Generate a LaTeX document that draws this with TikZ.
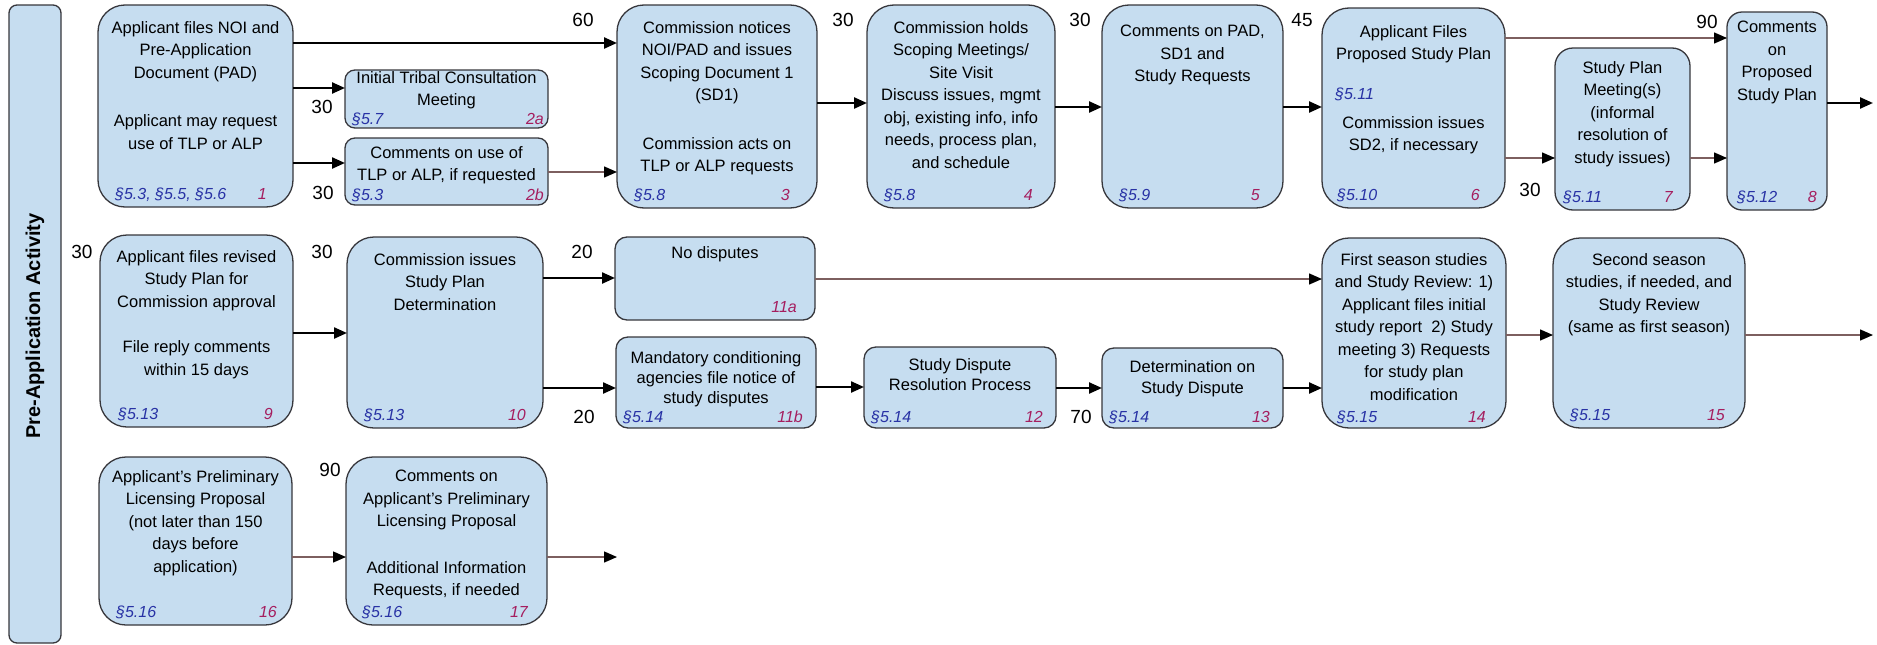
\documentclass[tikz,border=0pt]{standalone}
\usepackage{fontspec}
\setmainfont{Liberation Sans}
\usetikzlibrary{arrows.meta}
\definecolor{boxfill}{RGB}{198,221,240}
\definecolor{boxline}{RGB}{55,55,60}
\definecolor{refblue}{RGB}{40,50,165}
\definecolor{nummag}{RGB}{165,30,95}
\definecolor{thinarr}{RGB}{125,95,95}
\newcommand\pbox[6]{\node[box,rounded corners=#6pt,minimum width={(#4-#2)*1pt},minimum height={(#5-#3)*1pt}] (#1) at ({(#2+#4)/2},{(#3+#5)/2}) {};}
\tikzset{
  box/.style={draw=boxline,fill=boxfill,line width=1.3pt,inner sep=0pt,outer sep=0pt},
  btxt/.style={font=\fontsize{16.5}{22.5}\selectfont,align=center,inner sep=0pt,anchor=north},
  reftxt/.style={font=\fontsize{16}{18}\selectfont\itshape,text=refblue,inner sep=0pt,anchor=base west},
  numtxt/.style={font=\fontsize{16}{18}\selectfont\itshape,text=nummag,inner sep=0pt,anchor=base east},
  lbl/.style={font=\fontsize{19}{22}\selectfont,inner sep=0pt},
  arr/.style={line width=2.3pt,-{Triangle[length=13pt,width=11pt]}},
  tarr/.style={line width=1.4pt,draw=thinarr,-{Triangle[length=13pt,width=11pt,color=black]}}
}
\begin{document}
\begin{tikzpicture}[x=1pt,y=-1pt]
\useasboundingbox (0,0) rectangle (1877,645);
% sidebar
\node[box,rounded corners=8pt,minimum width=52pt,minimum height=638pt] (side) at (35,324) {};
\node[rotate=90,font=\bfseries\fontsize{20}{22}\selectfont,inner sep=0pt] (sidet) at (35,326) {Pre-Application Activity};
% boxes
\pbox{b1}{98}{5}{293}{207}{27}
\pbox{b2a}{345}{70}{548}{128}{10}
\pbox{b2b}{345}{138}{548}{205}{10}
\pbox{b3}{617}{5}{817}{208}{27}
\pbox{b4}{867}{5}{1055}{208}{27}
\pbox{b5}{1102}{5}{1283}{208}{27}
\pbox{b6}{1322}{8}{1505}{208}{27}
\pbox{b7}{1555}{48}{1690}{210}{18}
\pbox{b8}{1727}{12}{1827}{210}{15}
\pbox{b9}{100}{235}{293}{427}{27}
\pbox{b10}{347}{237}{543}{428}{27}
\pbox{b11a}{615}{237}{815}{320}{12}
\pbox{b11b}{616}{337}{816}{428}{12}
\pbox{b12}{864}{347}{1056}{428}{12}
\pbox{b13}{1102}{348}{1283}{428}{12}
\pbox{b14}{1322}{238}{1506}{428}{27}
\pbox{b15}{1553}{238}{1745}{428}{27}
\pbox{b16}{99}{457}{292}{625}{27}
\pbox{b17}{346}{457}{547}{625}{27}
% texts
\node[btxt] (b1t) at (195.5,21) {Applicant files NOI and\\Pre-Application\\Document (PAD)\\[26pt]Applicant may request\\use of TLP or ALP};
\node[btxt] (b2at) at (446.5,71) {Initial Tribal Consultation\\Meeting};
\node[btxt] (b2bt) at (446.5,146) {Comments on use of\\TLP or ALP, if requested};
\node[btxt] (b3t) at (717,21) {Commission notices\\NOI/PAD and issues\\Scoping Document 1\\(SD1)\\[26pt]Commission acts on\\TLP or ALP requests};
\node[btxt] (b4t) at (961,21) {Commission holds\\Scoping Meetings/\\Site Visit\\Discuss issues, mgmt\\obj, existing info, info\\needs, process plan,\\and schedule};
\node[btxt] (b5t) at (1192.5,25) {Comments on PAD,\\SD1 and\\Study Requests};
\node[btxt] (b6t) at (1413.5,25) {Applicant Files\\Proposed Study Plan};
\node[reftxt] (b6r2) at (1335,99) {§5.11};
\node[btxt] (b6t2) at (1413.5,116) {Commission issues\\SD2, if necessary};
\node[btxt] (b7t) at (1622.5,61) {Study Plan\\Meeting(s)\\(informal\\resolution of\\study issues)};
\node[btxt] (b8t) at (1777,21) {Comments\\on\\Proposed\\Study Plan};
\node[btxt] (b9t) at (196.5,250) {Applicant files revised\\Study Plan for\\Commission approval\\[23pt]File reply comments\\within 15 days};
\node[btxt] (b10t) at (445,253) {Commission issues\\Study Plan\\Determination};
\node[btxt] (b11at) at (715,246) {No disputes};
\node[btxt,font=\fontsize{16.5}{20}\selectfont] (b11bt) at (716,351) {Mandatory conditioning\\agencies file notice of\\study disputes};
\node[btxt,font=\fontsize{16.5}{20.5}\selectfont] (b12t) at (960,358) {Study Dispute\\Resolution Process};
\node[btxt,font=\fontsize{16.5}{21}\selectfont] (b13t) at (1192.5,360) {Determination on\\Study Dispute};
\node[btxt] (b14t) at (1414,253) {First season studies\\and Study Review: 1)\\Applicant files initial\\study report\ \ 2) Study\\meeting 3) Requests\\for study plan\\modification};
\node[btxt] (b15t) at (1649,253) {Second season\\studies, if needed, and\\Study Review\\(same as first season)};
\node[btxt] (b16t) at (195.5,470) {Applicant's Preliminary\\Licensing Proposal\\(not later than 150\\days before\\application)};
\node[btxt] (b17t) at (446.5,470) {Comments on\\Applicant's Preliminary\\Licensing Proposal\\[24pt]Additional Information\\Requests, if needed};
% refs
\node[reftxt] (b1r) at (115,199) {§5.3, §5.5, §5.6};
\node[reftxt] (b2ar) at (352,124) {§5.7};
\node[reftxt] (b2br) at (352,200) {§5.3};
\node[reftxt] (b3r) at (634,200) {§5.8};
\node[reftxt] (b4r) at (884,200) {§5.8};
\node[reftxt] (b5r) at (1119,200) {§5.9};
\node[reftxt] (b6r) at (1337,200) {§5.10};
\node[reftxt] (b7r) at (1563,202) {§5.11};
\node[reftxt] (b8r) at (1737,202) {§5.12};
\node[reftxt] (b9r) at (118,419) {§5.13};
\node[reftxt] (b10r) at (364,420) {§5.13};
\node[reftxt] (b11br) at (623,422) {§5.14};
\node[reftxt] (b12r) at (871,422) {§5.14};
\node[reftxt] (b13r) at (1109,422) {§5.14};
\node[reftxt] (b14r) at (1337,422) {§5.15};
\node[reftxt] (b15r) at (1570,420) {§5.15};
\node[reftxt] (b16r) at (116,617) {§5.16};
\node[reftxt] (b17r) at (362,617) {§5.16};
% numbers
\node[numtxt] (b1n) at (267,199) {1};
\node[numtxt] (b2an) at (544,124) {2a};
\node[numtxt] (b2bn) at (544,200) {2b};
\node[numtxt] (b3n) at (790,200) {3};
\node[numtxt] (b4n) at (1033,200) {4};
\node[numtxt] (b5n) at (1260,200) {5};
\node[numtxt] (b6n) at (1480,200) {6};
\node[numtxt] (b7n) at (1673,202) {7};
\node[numtxt] (b8n) at (1817,202) {8};
\node[numtxt] (b9n) at (273,419) {9};
\node[numtxt] (b10n) at (526,420) {10};
\node[numtxt] (b11an) at (797,312) {11a};
\node[numtxt] (b11bn) at (803,422) {11b};
\node[numtxt] (b12n) at (1043,422) {12};
\node[numtxt] (b13n) at (1270,422) {13};
\node[numtxt] (b14n) at (1486,422) {14};
\node[numtxt] (b15n) at (1725,420) {15};
\node[numtxt] (b16n) at (277,617) {16};
\node[numtxt] (b17n) at (528,617) {17};
% duration labels
\node[lbl] (l13) at (583,20) {60};
\node[lbl] (l12a) at (322,107) {30};
\node[lbl] (l12b) at (323,193) {30};
\node[lbl] (l34) at (843,20) {30};
\node[lbl] (l45) at (1080,20) {30};
\node[lbl] (l56) at (1302,20) {45};
\node[lbl] (l68) at (1707,22) {90};
\node[lbl] (l67) at (1530,190) {30};
\node[lbl] (l9) at (82,252) {30};
\node[lbl] (l10) at (322,252) {30};
\node[lbl] (l11a) at (582,252) {20};
\node[lbl] (l11b) at (584,417) {20};
\node[lbl] (l13b) at (1081,417) {70};
\node[lbl] (l17) at (330,470) {90};
% outgoing free ends
\coordinate (o8) at (1873,103);
\coordinate (o15) at (1873,335);
\coordinate (o17) at (617,557);
% connectors
\draw[arr] (b1.east |- 0,43) -- (b3.west |- 0,43);
\draw[arr] (b1.east |- 0,88) -- (b2a.west |- 0,88);
\draw[arr] (b1.east |- 0,163) -- (b2b.west |- 0,163);
\draw[tarr] (b2b.east |- 0,172) -- (b3.west |- 0,172);
\draw[arr] (b3.east |- 0,103) -- (b4.west |- 0,103);
\draw[arr] (b4.east |- 0,107) -- (b5.west |- 0,107);
\draw[arr] (b5.east |- 0,107) -- (b6.west |- 0,107);
\draw[tarr] (b6.east |- 0,38) -- (b8.west |- 0,38);
\draw[tarr] (b6.east |- 0,158) -- (b7.west |- 0,158);
\draw[tarr] (b7.east |- 0,158) -- (b8.west |- 0,158);
\draw[arr] (b8.east |- o8) -- (o8);
\draw[arr] (b9.east |- 0,333) -- (b10.west |- 0,333);
\draw[arr] (b10.east |- 0,278) -- (b11a.west |- 0,278);
\draw[arr] (b10.east |- 0,388) -- (b11b.west |- 0,388);
\draw[tarr] (b11a.east |- 0,279) -- (b14.west |- 0,279);
\draw[arr] (b11b.east |- 0,387) -- (b12.west |- 0,387);
\draw[arr] (b12.east |- 0,388) -- (b13.west |- 0,388);
\draw[arr] (b13.east |- 0,388) -- (b14.west |- 0,388);
\draw[tarr] (b14.east |- o15) -- (b15.west |- o15);
\draw[tarr] (b15.east |- o15) -- (o15);
\draw[tarr] (b16.east |- o17) -- (b17.west |- o17);
\draw[tarr] (b17.east |- o17) -- (o17);
\end{tikzpicture}
\end{document}
